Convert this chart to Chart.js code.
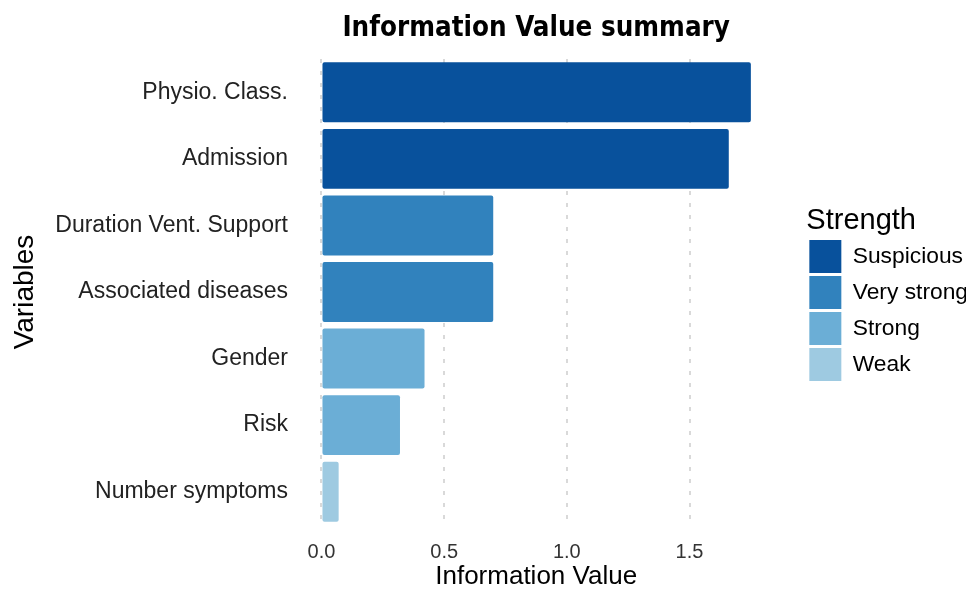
<!DOCTYPE html>
<html>
<head>
<meta charset="utf-8">
<script src="https://cdn.jsdelivr.net/npm/chart.js@4.4.1/dist/chart.umd.min.js"></script>
<style>
  html, body { margin: 0; padding: 0; background: #fff; }
</style>
</head>
<body>
<canvas id="chart" width="971" height="590"></canvas>
<script>
// values
const variables = ['Physio. Class.', 'Admission', 'Duration Vent. Support', 'Associated diseases', 'Gender', 'Risk', 'Number symptoms'];
const infoValues = [1.75, 1.66, 0.70, 0.70, 0.42, 0.32, 0.07];
const strengthOf = ['Suspicious', 'Suspicious', 'Very strong', 'Very strong', 'Strong', 'Strong', 'Weak'];
const strengthLevels = ['Suspicious', 'Very strong', 'Strong', 'Weak'];
const strengthColors = ['#08519c', '#3182bd', '#6baed6', '#9ecae1'];
const xTicks = [0, 0.5, 1.0, 1.5];

const FONT = '"Liberation Sans", Arial, sans-serif';

const barColors = strengthOf.map(s => strengthColors[strengthLevels.indexOf(s)]);

const ctx = document.getElementById('chart').getContext('2d');
new Chart(ctx, {
  type: 'bar',
  data: {
    labels: variables,
    datasets: [{
      label: 'Information Value',
      data: infoValues,
      backgroundColor: barColors,
      borderWidth: 0,
      borderRadius: 2,
      borderSkipped: false,
      categoryPercentage: 1.0,
      barPercentage: 0.9,
    }],
  },
  options: {
    responsive: false,
    animation: false,
    indexAxis: 'y',
    layout: { padding: { left: 8, right: 5, top: 0, bottom: 0 } },
    scales: {
      x: {
        min: -0.0875,
        max: 1.8375,
        afterBuildTicks: axis => { axis.ticks = xTicks.map(v => ({ value: v })); },
        afterFit: s => { s.height = 65; },
        ticks: {
          color: '#333',
          font: { family: FONT, size: 20 },
          padding: 15,
          callback: v => Number(v).toFixed(1),
        },
        grid: {
          drawTicks: false,
          color: '#d9d9d9',
          lineWidth: 2,
        },
        border: { display: false, dash: [4, 8] },
        title: {
          display: true,
          text: 'Information Value',
          color: '#000',
          font: { family: FONT, size: 26, lineHeight: 1 },
          padding: { top: 0, bottom: 0 },
        },
      },
      y: {
        afterFit: s => { s.width = 292; },
        ticks: {
          color: '#222',
          font: { family: FONT, size: 23 },
          padding: 12,
        },
        grid: { display: false, drawTicks: false },
        border: { display: false },
        title: {
          display: true,
          text: 'Variables',
          color: '#000',
          font: { family: FONT, size: 28 },
          padding: { top: 0, bottom: 0 },
        },
      },
      // empty right-hand axis that only keeps the gap between plot and legend
      gap: {
        axis: 'y',
        position: 'right',
        afterFit: s => { s.width = 34; },
        ticks: { display: false },
        grid: { display: false, drawTicks: false },
        border: { display: false },
      },
    },
    plugins: {
      title: {
        display: true,
        fullSize: false,
        text: 'Information Value summary',
        color: '#000',
        font: { family: '"DejaVu Sans Condensed", "Liberation Sans", Arial, sans-serif', size: 27.5, weight: 'bold' },
        padding: { top: 12, bottom: 14 },
      },
      legend: {
        position: 'right',
        align: 'center',
        title: {
          display: true,
          text: 'Strength',
          position: 'start',
          color: '#000',
          font: { family: FONT, size: 29, lineHeight: 1 },
          padding: { top: 0, bottom: 2 },
        },
        labels: {
          boxWidth: 32,
          boxHeight: 33,
          padding: 3,
          color: '#1a1a1a',
          font: { family: FONT, size: 22.8 },
          generateLabels: () => strengthLevels.map((s, i) => ({
            text: s,
            fillStyle: strengthColors[i],
            strokeStyle: strengthColors[i],
            lineWidth: 0,
            hidden: false,
            index: i,
          })),
        },
        onClick: () => {},
      },
      tooltip: { enabled: false },
    },
  },
});
</script>
</body>
</html>
